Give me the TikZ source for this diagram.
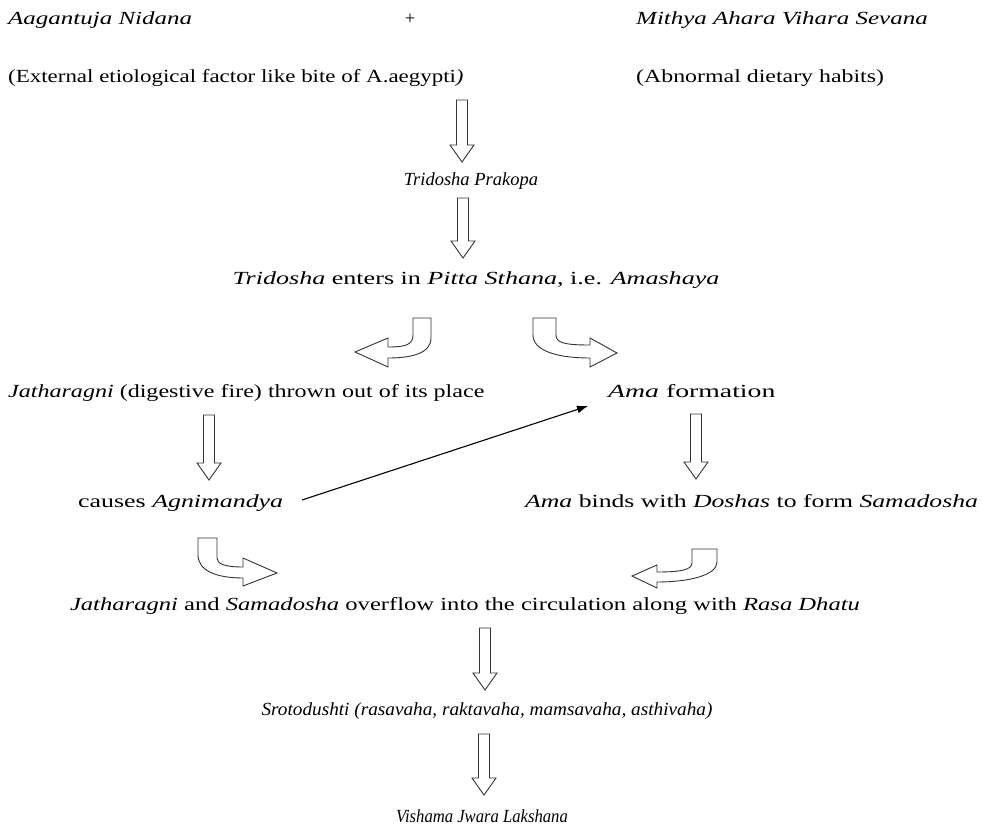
\documentclass[tikz,border=0pt]{standalone}
\usepackage{fontspec}
\usepackage{graphicx}
\setmainfont{Liberation Serif}
\usetikzlibrary{arrows.meta}
\tikzset{
  txt/.style={inner sep=0pt, font=\fontsize{18.5}{20}\selectfont, text height=0.7em, text depth=0.22em},
  fat/.style={draw=black!80, line width=0.9pt, fill=white, line join=miter},
  thin/.style={draw=black, line width=1.1pt, -{Latex[length=11pt,width=8pt]}}
}
\newcommand{\sx}[2]{\scalebox{#1}[1]{#2}}
\newcommand{\fatdown}[3]{%
  \draw[fat] (#1-5.5,#2) -- (#1+5.5,#2) -- (#1+5.5,#3-17) -- (#1+12,#3-17) -- (#1,#3) -- (#1-12,#3-17) -- (#1-5.5,#3-17) -- cycle;}
\begin{document}
\begin{tikzpicture}[x=1pt,y=-1pt]
\useasboundingbox[fill=white] (0,0) rectangle (983,834);
% texts
\node[txt,anchor=west] (agantu) at (8,22) {\sx{1.35}{\textit{Aagantuja Nidana}}};
\node[txt] (plus) at (410,22) {+};
\node[txt,anchor=west] (mithya) at (636,22) {\sx{1.35}{\textit{Mithya Ahara Vihara Sevana}}};
\node[txt,anchor=west] (extern) at (8,80) {\sx{1.24}{(External etiological factor like bite of A.aegypti\textit{)}}};
\node[txt,anchor=west] (abnorm) at (636,80) {\sx{1.29}{(Abnormal dietary habits)}};
\node[txt] (prakopa) at (471,183) {\sx{1.0}{\textit{Tridosha Prakopa}}};
\node[txt] (enters) at (476,282) {\sx{1.41}{\textit{Tridosha} enters in \textit{Pitta Sthana}, i.e. \textit{Amashaya}}};
\node[txt,anchor=west] (jathar) at (8,395) {\sx{1.30}{\textit{Jatharagni} (digestive fire) thrown out of its place}};
\node[txt,anchor=west] (amaform) at (608,395) {\sx{1.50}{\textit{Ama} formation}};
\node[txt,anchor=west] (causes) at (78,505) {\sx{1.40}{causes \textit{Agnimandya}}};
\node[txt,anchor=west] (binds) at (525,505) {\sx{1.39}{\textit{Ama} binds with \textit{Doshas} to form \textit{Samadosha}}};
\node[txt] (overflow) at (465,608) {\sx{1.33}{\textit{Jatharagni} and \textit{Samadosha} overflow into the circulation along with \textit{Rasa Dhatu}}};
\node[txt] (sroto) at (487,713) {\sx{1.04}{\textit{Srotodushti (rasavaha, raktavaha, mamsavaha, asthivaha)}}};
\node[txt] (vishama) at (482,820) {\sx{0.9}{\textit{Vishama Jwara Lakshana}}};
% fat down arrows
\fatdown{462}{100}{162}
\fatdown{463}{198}{258}
\fatdown{209}{415}{480}
\fatdown{696}{414}{479}
\fatdown{485}{628}{690}
\fatdown{484}{734}{795}
% bent arrows
\draw[fat] (413,318) -- (431,318) -- (431,338) .. controls (431,354) and (410,358) .. (388,358) -- (388,367) -- (355,352) -- (388,338) -- (388,347) .. controls (405,347) and (413,345) .. (413,335) -- cycle;
\draw[fat] (533,318) -- (556,318) -- (556,335) .. controls (556,343) and (565,345) .. (590,345) -- (590,338) -- (617,353) -- (590,367) -- (590,358) .. controls (555,358) and (533,350) .. (533,335) -- cycle;
\draw[fat] (198,538) -- (217,538) -- (217,558) .. controls (217,564) and (225,567) .. (243,567) -- (243,558) -- (277,573) -- (243,586) -- (243,578) .. controls (215,578) and (198,570) .. (198,555) -- cycle;
\draw[fat] (692,549) -- (717,549) -- (717,562) .. controls (717,575) and (690,582) .. (657,582) -- (657,588) -- (632,576) -- (657,565) -- (657,572) .. controls (680,572) and (692,570) .. (692,563) -- cycle;
% thin arrow
\coordinate (tstart) at (302,500);
\coordinate (tend) at (588,406);
\draw[thin] (tstart) -- (tend);
\end{tikzpicture}
\end{document}
